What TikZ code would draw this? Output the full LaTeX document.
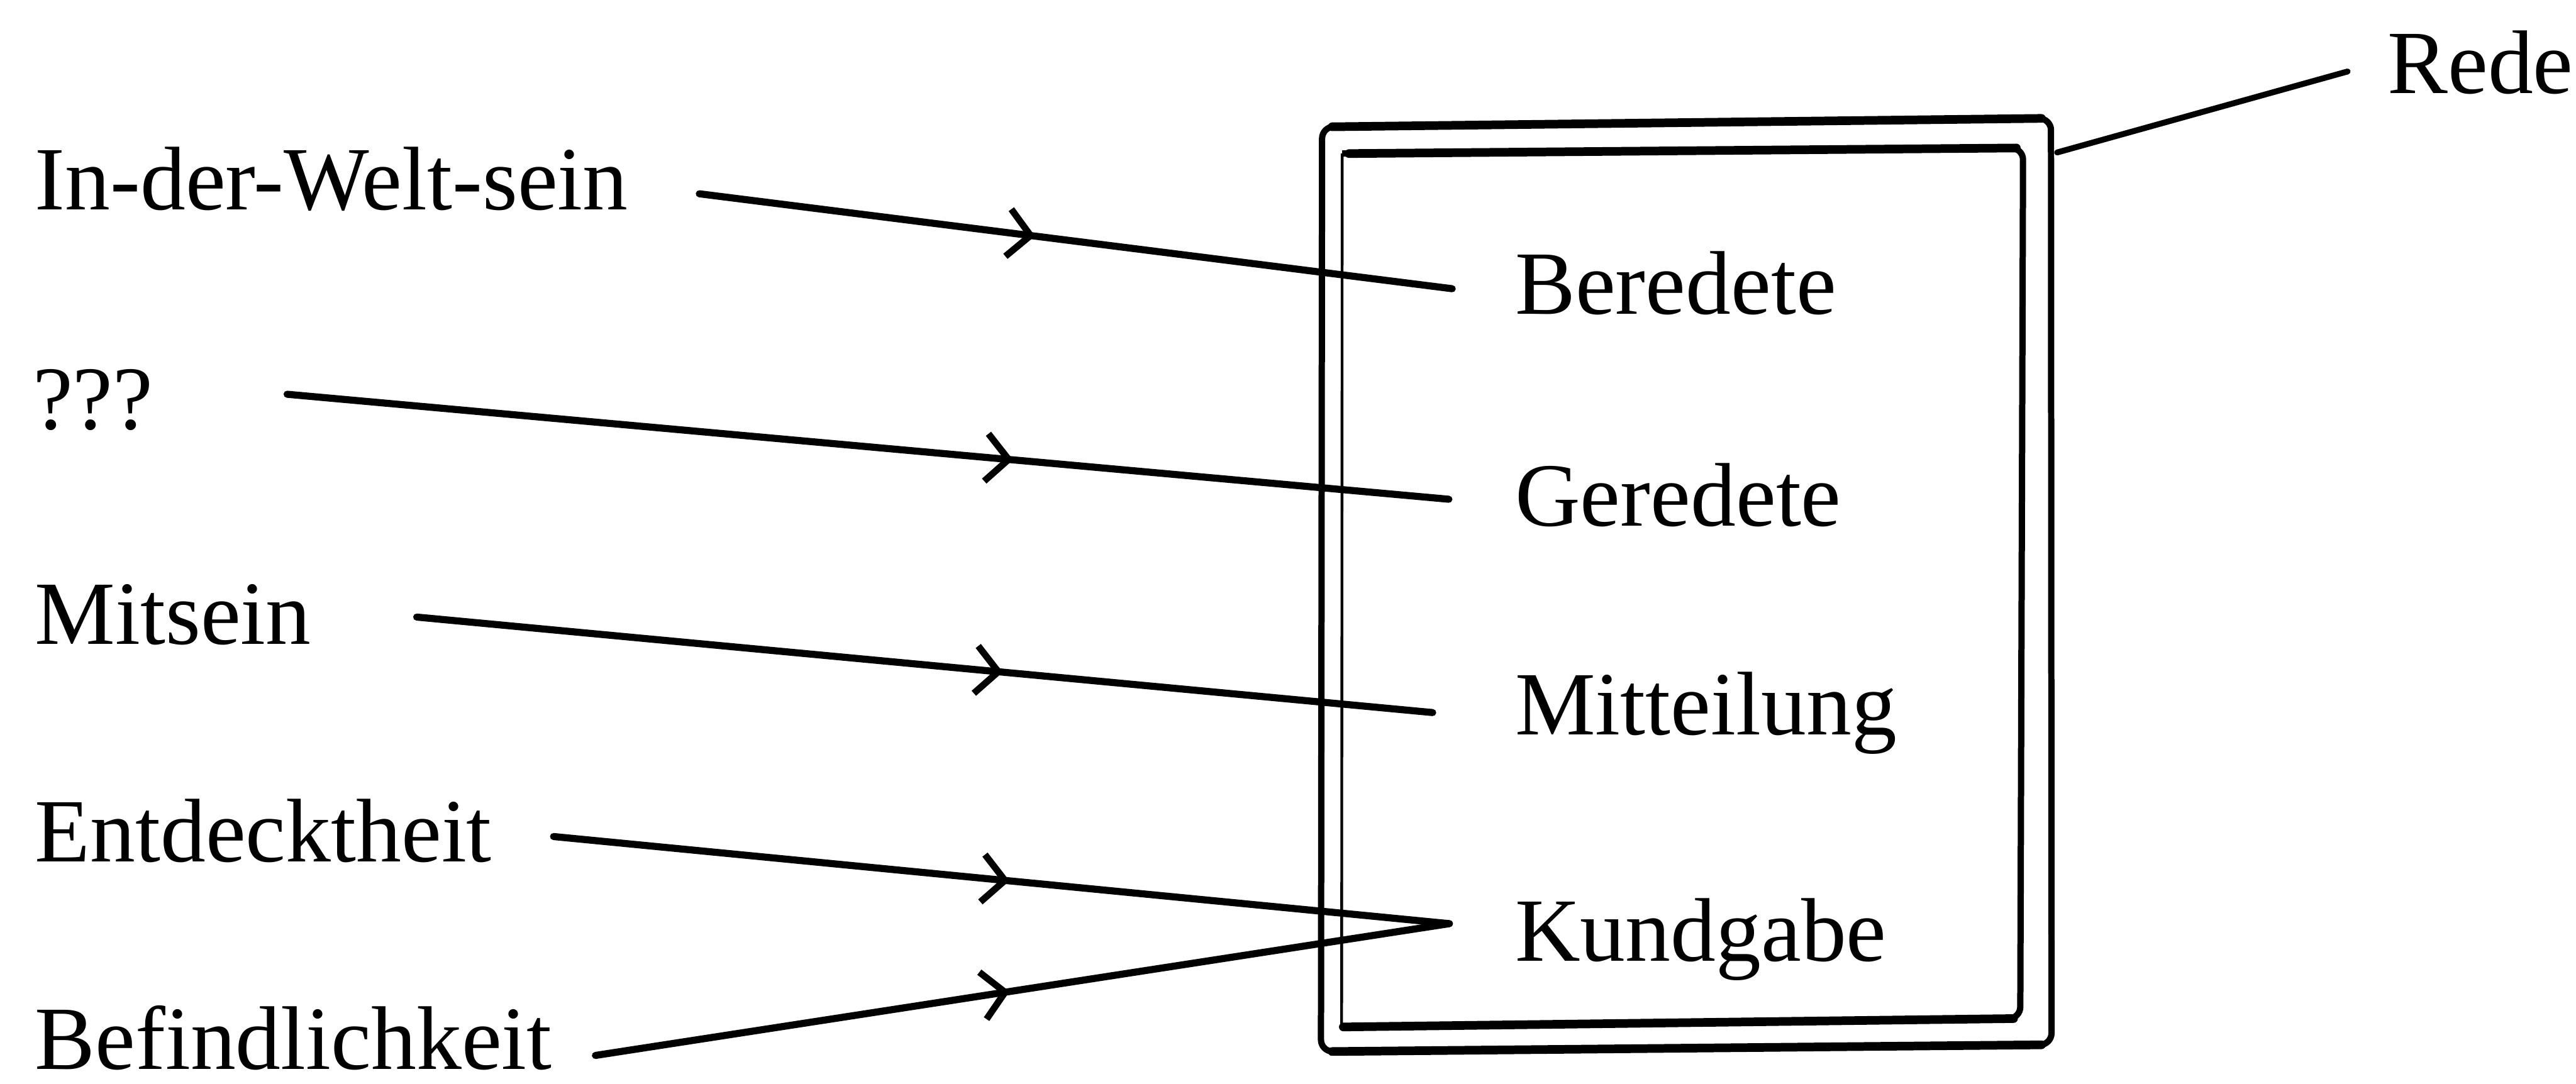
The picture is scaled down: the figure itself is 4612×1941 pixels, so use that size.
\documentclass[tikz,border=0pt]{standalone}
\usepackage{fontspec}
\setmainfont{Liberation Serif}
\usetikzlibrary{arrows.meta,decorations.markings}
\begin{document}
\begin{tikzpicture}[x=0.01cm,y=-0.01cm,
  lab/.style={anchor=base west,inner sep=0pt,font=\fontsize{46}{55}\selectfont},
  conn/.style={line width=3.6pt,line cap=round},
  chev/.style={postaction={decorate},decoration={markings,mark=at position #1 with {\arrow{Straight Barb[length=0.4cm,width=0.85cm,line width=3.4pt]}}}},
  vline/.style={line width=3.2pt},
  hline/.style={line width=4.4pt,line cap=round}
]
\useasboundingbox (0,0) rectangle (4612,1941);

% left labels
\node[lab] (iw)  at (62,376)  {In-der-Welt-sein};
\node[lab] (q)   at (58,769)  {???};
\node[lab] (mit) at (62,1153) {Mitsein};
\node[lab] (ent) at (62,1543) {Entdecktheit};
\node[lab] (bef) at (62,1915) {Befindlichkeit};

% right labels
\node[lab] (ber)  at (2712,562)  {Beredete};
\node[lab] (ger)  at (2712,942)  {Geredete};
\node[lab] (mitt) at (2712,1316) {Mitteilung};
\node[lab] (kund) at (2712,1721) {Kundgabe};
\node[lab] (rede) at (4274,167)  {Rede};

% box (double frame)
\draw[vline,rounded corners=6pt] (2367,227) -- (3672,212) -- (3673,1871) -- (2365,1883) -- cycle;
\draw[vline,rounded corners=6pt] (2403,275) -- (3622,265) -- (3617,1824) -- (2402,1839);
\draw[line width=1.4pt] (2402,1839) -- (2403,275);
\draw[hline] (2385,227) -- (3655,212);
\draw[hline] (2385,1883) -- (3655,1871);
\draw[hline] (2415,275) -- (3610,265);
\draw[hline] (2405,1839) -- (3605,1824);

% connector coordinates
\coordinate (s1) at (1252,347);
\coordinate (e1) at (2600,517);
\coordinate (s2) at (514,706);
\coordinate (e2) at (2594,894);
\coordinate (s3) at (746,1105);
\coordinate (e3) at (2565,1276);
\coordinate (s4) at (991,1498);
\coordinate (k)  at (2595,1654);
\coordinate (s5) at (1066,1890);
\coordinate (r1) at (3683,273);
\coordinate (r2) at (4203,128);

% connectors
\draw[conn,chev=0.446] (s1) -- (e1);
\draw[conn,chev=0.625] (s2) -- (e2);
\draw[conn,chev=0.577] (s3) -- (e3);
\draw[conn,chev=0.509] (s4) -- (k);
\draw[conn,chev=0.485] (s5) -- (k);
\draw[line width=3pt,line cap=round] (r1) -- (r2);
\end{tikzpicture}
\end{document}
